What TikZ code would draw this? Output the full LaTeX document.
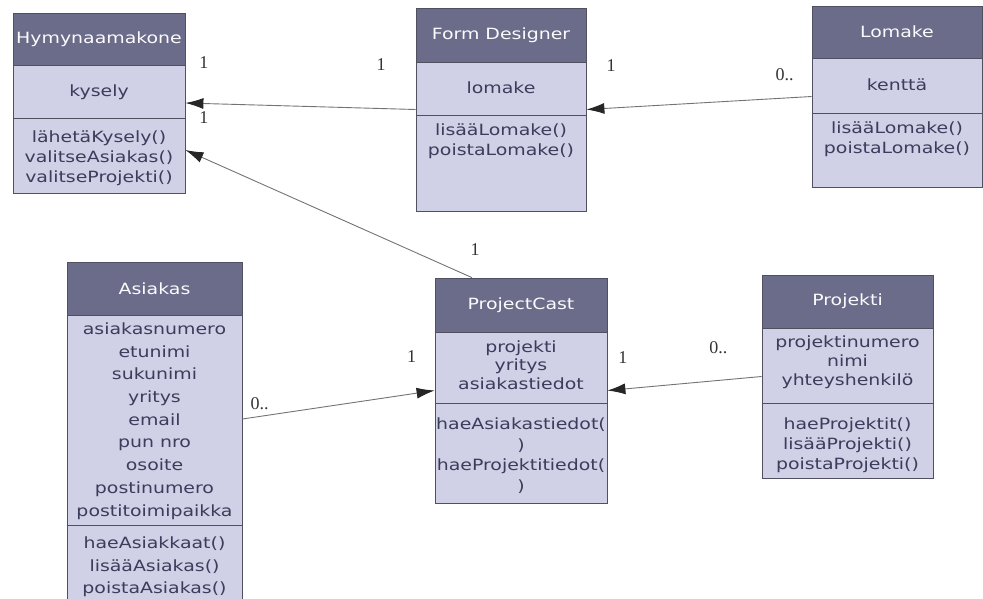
\documentclass[tikz,border=0pt]{standalone}
\usepackage{fontspec}
\newfontfamily\umlfont[FakeStretch=1.22]{DejaVu Sans}
\newfontfamily\multfont{Liberation Serif}
\usetikzlibrary{calc,positioning}
\usetikzlibrary{arrows.meta}
\definecolor{headgray}{RGB}{107,107,138}
\definecolor{bodylilac}{RGB}{208,208,230}
\definecolor{edgegray}{RGB}{80,80,96}
\definecolor{textgray}{RGB}{60,60,92}
\tikzset{
    classbox/.style={draw=edgegray, fill=bodylilac, line width=0.8pt, inner sep=0pt}, % whole class rectangle
    classhead/.style={draw=edgegray, fill=headgray, line width=0.8pt, inner sep=0pt,
        text=white!92!bodylilac, font=\umlfont\fontsize{15.5}{18}\selectfont}, % class name bar
    members/.style={align=center, text=textgray, inner sep=0pt,
        font=\umlfont\fontsize{15.5}{20}\selectfont}, % attributes and operations
    mult/.style={text=black!80, inner sep=0pt, font=\multfont\fontsize{18}{18}\selectfont}, % multiplicities
    assoc/.style={color=black!55, line width=0.9pt,
        -{Latex[length=18pt,width=11pt,color=black!85]}}, % association arrows
}

\begin{document}
\begin{tikzpicture}[x=1pt,y=-1pt]
  \useasboundingbox (0,0) rectangle (983,598);

  % Hymynaamakone
  \node[classbox, minimum width=172pt, minimum height=180pt] (hym) at (99,103) {};
  \node[classhead, minimum width=172pt, minimum height=52pt, anchor=north] (hym_h) at (hym.north) {Hymynaamakone};
  \draw[edgegray, line width=0.8pt] (hym.west |- 0,118) -- (hym.east |- 0,118);
  \node[members] (hym_a) at (99,92)  {kysely};
  \node[members] (hym_m) at (99,158) {lähetäKysely()\\valitseAsiakas()\\valitseProjekti()};

  % Form Designer
  \node[classbox, minimum width=170pt, minimum height=203pt] (fd) at (501,109.5) {};
  \node[classhead, minimum width=170pt, minimum height=54pt, anchor=north] (fd_h) at (fd.north) {Form Designer};
  \draw[edgegray, line width=0.8pt] (fd.west |- 0,115) -- (fd.east |- 0,115);
  \node[members] (fd_a) at (501,88)  {lomake};
  \node[members] (fd_m) at (501,141) {lisääLomake()\\poistaLomake()};

  % Lomake
  \node[classbox, minimum width=170pt, minimum height=181pt] (lom) at (897,96.5) {};
  \node[classhead, minimum width=170pt, minimum height=52pt, anchor=north] (lom_h) at (lom.north) {Lomake};
  \draw[edgegray, line width=0.8pt] (lom.west |- 0,113) -- (lom.east |- 0,113);
  \node[members] (lom_a) at (897,85)  {kenttä};
  \node[members] (lom_m) at (897,139) {lisääLomake()\\poistaLomake()};

  % Asiakas
  \node[classbox, minimum width=175pt, minimum height=350pt] (as) at (154.5,437) {};
  \node[classhead, minimum width=175pt, minimum height=53pt, anchor=north] (as_h) at (as.north) {Asiakas};
  \draw[edgegray, line width=0.8pt] (as.west |- 0,525) -- (as.east |- 0,525);
  \node[members, font=\umlfont\fontsize{15.5}{22.7}\selectfont] (as_a) at (154.5,421)
    {asiakasnumero\\etunimi\\sukunimi\\yritys\\email\\pun nro\\osoite\\postinumero\\postitoimipaikka};
  \node[members, font=\umlfont\fontsize{15.5}{22.5}\selectfont] (as_m) at (154.5,567)
    {haeAsiakkaat()\\lisääAsiakas()\\poistaAsiakas()};

  % ProjectCast
  \node[classbox, minimum width=172pt, minimum height=225pt] (pc) at (521,390.5) {};
  \node[classhead, minimum width=172pt, minimum height=54pt, anchor=north] (pc_h) at (pc.north) {ProjectCast};
  \draw[edgegray, line width=0.8pt] (pc.west |- 0,403) -- (pc.east |- 0,403);
  \node[members, font=\umlfont\fontsize{15.5}{18.5}\selectfont] (pc_a) at (521,365) {projekti\\yritys\\asiakastiedot};
  \node[members, font=\umlfont\fontsize{15.5}{20.7}\selectfont] (pc_m) at (521,455.5)
    {haeAsiakastiedot(\\)\\haeProjektitiedot(\\)};

  % Projekti
  \node[classbox, minimum width=171pt, minimum height=203pt] (pro) at (847.5,376.5) {};
  \node[classhead, minimum width=171pt, minimum height=53pt, anchor=north] (pro_h) at (pro.north) {Projekti};
  \draw[edgegray, line width=0.8pt] (pro.west |- 0,403) -- (pro.east |- 0,403);
  \node[members, font=\umlfont\fontsize{15.5}{19}\selectfont] (pro_a) at (847.5,362) {projektinumero\\nimi\\yhteyshenkilö};
  \node[members] (pro_m) at (847.5,445) {haeProjektit()\\lisääProjekti()\\poistaProjekti()};

  \path
    (fd.west) edge[assoc] node[mult, pos=0.15, yshift=43.5pt] {1}
                   node[mult, pos=0.92, yshift=40.5pt] {1}
                   node[mult, pos=0.92, yshift=-14.5pt] {1} (hym.east)
    (lom.west) edge[assoc] node[mult, pos=0.89, yshift=43pt] {1}
                    node[mult, pos=0.12, yshift=23pt] {0..} (fd.east)
    ([xshift=-49pt]pc.north) edge[assoc] node[mult, pos=0, xshift=3pt, yshift=28pt] {1} ([yshift=-47pt]hym.east)
    ([yshift=18pt]as.east) edge[assoc] node[mult, pos=0.09, yshift=13pt] {0..}
                                node[mult, pos=0.88, yshift=37pt] {1} (pc.west)
    (pro.west) edge[assoc] node[mult, pos=0.9, yshift=32pt] {1}
                    node[mult, pos=0.28, yshift=32.5pt] {0..} (pc.east);
\end{tikzpicture}
\end{document}
